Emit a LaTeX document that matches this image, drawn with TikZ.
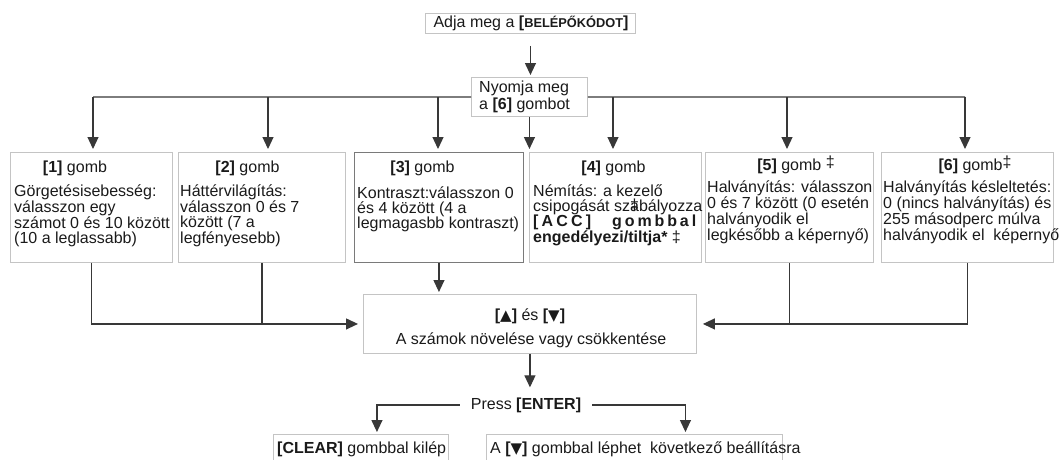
\documentclass[tikz,border=0pt]{standalone}
\usepackage{fontspec}
\setmainfont{Liberation Sans}
\newfontfamily\symfont{DejaVu Sans}
\newcommand{\tri}[1]{{\symfont\fontsize{15}{12}\selectfont #1}}
\usetikzlibrary{arrows.meta,calc}
\definecolor{boxgray}{HTML}{C4C4C4}
\definecolor{darkbox}{HTML}{7A7A7A}
\definecolor{linegray}{HTML}{383838}
\definecolor{txtc}{HTML}{1A1A1A}
\begin{document}
\begin{tikzpicture}[x=1pt,y=-1pt,
  box/.style={draw=boxgray,line width=0.9pt,inner sep=0pt,anchor=north west},
  arr/.style={draw=linegray,line width=1.2pt,-{Triangle[width=11pt,length=12pt]}},
  ln/.style={draw=linegray,line width=1.2pt},
  txt/.style={inner sep=0pt,text=txtc,font=\fontsize{16}{15}\selectfont},
  body/.style={txt,align=left,anchor=base west},
  ttl/.style={txt,anchor=base},
]
\useasboundingbox (0,0) rectangle (1059,459);

% top boxes
\node[box,minimum width=210pt,minimum height=20pt] (top) at (425,13) {};
\node[txt] (topt) at (531,23.5) {Adja meg a \textbf{[{\fontsize{12.8}{12}\selectfont BELÉPŐKÓDOT}]}};
\node[box,minimum width=116pt,minimum height=39pt] (nyom) at (471,77) {};
\node[body,font=\fontsize{16}{17}\selectfont] (nyomt) at (479,109.5) {Nyomja meg\\a \textbf{[6]} gombot};

% six option boxes
\node[box,minimum width=162pt,minimum height=110pt] (b1) at (10,152) {};
\node[box,minimum width=167pt,minimum height=110pt] (b2) at (178,152) {};
\node[box,draw=darkbox,minimum width=169pt,minimum height=110pt] (b3) at (354,152) {};
\node[box,minimum width=172pt,minimum height=110pt] (b4) at (529,152) {};
\node[box,minimum width=168pt,minimum height=110pt] (b5) at (705,152) {};
\node[box,minimum width=172pt,minimum height=110pt] (b6) at (881,152) {};

\node[ttl] (b1t) at (75,172.5) {\textbf{[1]} gomb};
\node[ttl] (b2t) at (247.5,172.5) {\textbf{[2]} gomb};
\node[ttl] (b3t) at (422.5,172.5) {\textbf{[3]} gomb};
\node[ttl] (b4t) at (613.5,172.5) {\textbf{[4]} gomb};
\node[ttl] (b5t) at (796,170.5) {\textbf{[5]} gomb \raisebox{3pt}{‡}};
\node[ttl] (b6t) at (975,170.5) {\textbf{[6]} gomb\raisebox{3pt}{‡}};

\node[body] (b1x) at (14,243.5) {Görgetésisebesség:\\válasszon egy\\számot 0 és 10 között\\(10 a leglassabb)};
\node[body] (b2x) at (180,243.5) {Háttérvilágítás:\\válasszon 0 és 7\\között (7 a\\legfényesebb)};
\node[body] (b3x) at (357,228.5) {Kontraszt:válasszon 0\\és 4 között (4 a\\legmagasbb kontraszt)};
\node[body] (b4x) at (533,242.5) {Némítás: a kezelő\\csipogását sz\makebox[0pt][l]{\raisebox{1pt}{‡}}abályozza\\\textbf{\makebox[58pt][s]{[\hfill A\hfill C\hfill C\hfill ]}}\hspace{21pt}\textbf{\makebox[84pt][s]{g\hfill o\hfill m\hfill b\hfill b\hfill a\hfill l}}\\\textbf{engedélyezi/tiltja*} ‡};
\node[body] (b5x) at (707,240.5) {Halványítás: válasszon\\0 és 7 között (0 esetén\\halványodik el\\legkésőbb a képernyő)};
\node[body] (b6x) at (883,240.5) {Halványítás késleltetés:\\0 (nincs halványítás) és\\255 másodperc múlva\\halványodik el\ \ képernyő};

% middle box
\node[box,minimum width=333pt,minimum height=59pt] (mid) at (363,294) {};
\node[ttl] (midt) at (530,320.5) {\textbf{[\tri{▲}]} és \textbf{[\tri{▼}]}};
\node[ttl] (midx) at (531,344.5) {A számok növelése vagy csökkentése};

% press enter
\node[txt,inner xsep=11pt] (press) at (526,405) {Press \textbf{[ENTER]}};

% bottom boxes
\node[box,minimum width=175pt,minimum height=35pt] (clear) at (273,434) {};
\node[body] (cleart) at (277,453.5) {\textbf{[CLEAR]} gombbal kilép};
\node[box,minimum width=296pt,minimum height=35pt] (nxt) at (486,434) {};
\node[body] (nxtt) at (490,453.5) {A \textbf{[\tri{▼}]} gombbal léphet\ \ következő beállításra};

% connectors
\coordinate (busL) at (93,97);
\coordinate (j2) at (268,97);
\coordinate (j3) at (438,97);
\coordinate (j4) at (613,97);
\coordinate (j5) at (787,97);
\coordinate (busR) at (965,97);

\draw[arr,shorten <=12pt,shorten >=2pt] (top.south) -- (top.south |- nyom.north);
\draw[ln] (nyom.west) -- (busL);
\draw[ln] (nyom.east) -- (busR);
\draw[arr,shorten >=3pt] (busL) -- (busL |- b1.north);
\draw[arr,shorten >=3pt] (j2) -- (j2 |- b2.north);
\draw[arr,shorten >=3pt] (j3) -- (j3 |- b3.north);
\draw[arr,shorten >=3pt] (nyom.south) -- (nyom.south |- b4.north);
\draw[arr,shorten >=3pt] (j4) -- (j4 |- b4.north);
\draw[arr,shorten >=3pt] (j5) -- (j5 |- b5.north);
\draw[arr,shorten >=3pt] (busR) -- (busR |- b6.north);

\draw[arr,shorten >=5pt] (b1.south) |- (mid.west);
\draw[ln] (b2.south) -- (b2.south |- mid.west);
\draw[arr,shorten >=2pt] (b3.south) -- (b3.south |- mid.north);
\draw[ln] (b5.south) -- (b5.south |- mid.east);
\draw[arr,shorten >=6pt] (b6.south) |- (mid.east);

\draw[arr,shorten >=10pt] (mid.south) -- (mid.south |- press.north);
\draw[arr,shorten >=2pt] (press.west) -| ([xshift=16pt]clear.north);
\draw[arr,shorten >=2pt] (press.east) -| ([xshift=51pt]nxt.north);
\end{tikzpicture}
\end{document}
